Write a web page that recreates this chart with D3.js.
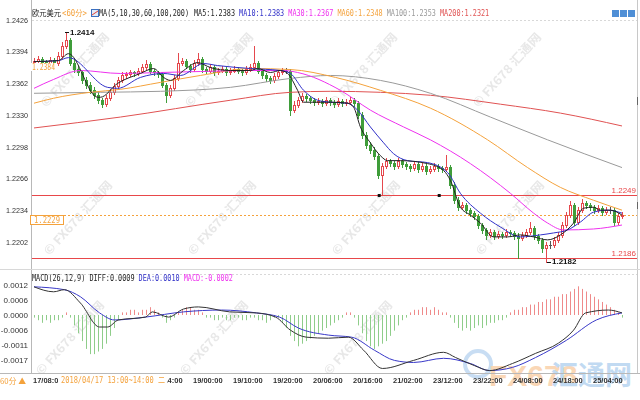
<!DOCTYPE html>
<html><head><meta charset="utf-8">
<script src="https://cdn.jsdelivr.net/npm/d3@7/dist/d3.min.js"></script>
<style>body{margin:0;background:#fff}svg{display:block}</style>
</head><body>
<svg id="c" width="640" height="400"></svg>
<script>
// ---------- DATA ----------
const open = [1.2384,1.2385,1.2387,1.2384,1.2383,1.2386,1.2383,1.2390,1.2400,1.2406,
 1.2383,1.2377,1.2373,1.2365,1.2360,1.2355,1.2350,1.2345,1.2341,1.2347,
 1.2353,1.2359,1.2365,1.2370,1.2371,1.2373,1.2372,1.2375,1.2379,1.2382,
 1.2375,1.2373,1.2371,1.2360,1.2350,1.2357,1.2367,1.2383,1.2385,1.2380,
 1.2377,1.2383,1.2387,1.2377,1.2375,1.2379,1.2373,1.2375,1.2377,1.2373,
 1.2375,1.2377,1.2375,1.2373,1.2377,1.2379,1.2383,1.2375,1.2370,1.2367,
 1.2365,1.2369,1.2373,1.2375,1.2375,1.2335,1.2340,1.2345,1.2349,1.2347,
 1.2345,1.2343,1.2344,1.2342,1.2345,1.2343,1.2341,1.2344,1.2342,1.2343,
 1.2345,1.2342,1.2330,1.2310,1.2300,1.2295,1.2289,1.2269,1.2279,1.2284,
 1.2282,1.2279,1.2284,1.2281,1.2279,1.2277,1.2281,1.2276,1.2279,1.2274,
 1.2276,1.2279,1.2277,1.2276,1.2278,1.2259,1.2244,1.2237,1.2239,1.2234,
 1.2231,1.2228,1.2219,1.2214,1.2209,1.2212,1.2208,1.2210,1.2209,1.2212,
 1.2211,1.2208,1.2206,1.2209,1.2212,1.2216,1.2208,1.2204,1.2196,1.2199,
 1.2199,1.2204,1.2209,1.2219,1.2229,1.2239,1.2222,1.2234,1.2241,1.2239,
 1.2237,1.2234,1.2236,1.2232,1.2234,1.2234,1.2222,1.2228];
const close = [1.2385,1.2387,1.2384,1.2383,1.2386,1.2383,1.2390,1.2400,1.2406,1.2383,
 1.2377,1.2373,1.2365,1.2360,1.2355,1.2350,1.2345,1.2341,1.2347,1.2353,
 1.2359,1.2365,1.2370,1.2371,1.2373,1.2372,1.2375,1.2379,1.2382,1.2375,
 1.2373,1.2371,1.2360,1.2350,1.2357,1.2367,1.2383,1.2385,1.2380,1.2377,
 1.2383,1.2387,1.2377,1.2375,1.2379,1.2373,1.2375,1.2377,1.2373,1.2375,
 1.2377,1.2375,1.2373,1.2377,1.2379,1.2383,1.2375,1.2370,1.2367,1.2365,
 1.2369,1.2373,1.2375,1.2375,1.2335,1.2340,1.2345,1.2349,1.2347,1.2345,
 1.2343,1.2344,1.2342,1.2345,1.2343,1.2341,1.2344,1.2342,1.2343,1.2345,
 1.2342,1.2330,1.2310,1.2300,1.2295,1.2289,1.2269,1.2279,1.2284,1.2282,
 1.2279,1.2284,1.2281,1.2279,1.2277,1.2281,1.2276,1.2279,1.2274,1.2276,
 1.2279,1.2277,1.2276,1.2278,1.2259,1.2244,1.2237,1.2239,1.2234,1.2231,
 1.2228,1.2219,1.2214,1.2209,1.2212,1.2208,1.2210,1.2209,1.2212,1.2211,
 1.2208,1.2206,1.2209,1.2212,1.2216,1.2208,1.2204,1.2196,1.2199,1.2199,
 1.2204,1.2209,1.2219,1.2229,1.2239,1.2222,1.2234,1.2241,1.2239,1.2237,
 1.2234,1.2236,1.2232,1.2234,1.2234,1.2222,1.2228,1.2229];
const high = [1.2388,1.2390,1.2389,1.2386,1.2389,1.2388,1.2394,1.2404,1.2414,1.2408,
 1.2386,1.2380,1.2375,1.2368,1.2363,1.2358,1.2353,1.2347,1.2350,1.2356,
 1.2362,1.2368,1.2373,1.2374,1.2376,1.2375,1.2378,1.2382,1.2386,1.2384,
 1.2377,1.2375,1.2373,1.2362,1.2360,1.2370,1.2393,1.2388,1.2387,1.2382,
 1.2386,1.2393,1.2389,1.2379,1.2382,1.2381,1.2378,1.2380,1.2379,1.2378,
 1.2380,1.2379,1.2377,1.2380,1.2382,1.2400,1.2385,1.2377,1.2372,1.2369,
 1.2372,1.2376,1.2378,1.2378,1.2377,1.2344,1.2348,1.2352,1.2351,1.2349,
 1.2347,1.2347,1.2346,1.2348,1.2347,1.2345,1.2347,1.2346,1.2346,1.2348,
 1.2347,1.2344,1.2333,1.2313,1.2303,1.2298,1.2291,1.2282,1.2287,1.2286,
 1.2284,1.2287,1.2286,1.2283,1.2281,1.2284,1.2283,1.2282,1.2281,1.2279,
 1.2282,1.2281,1.2279,1.2290,1.2280,1.2262,1.2247,1.2242,1.2241,1.2236,
 1.2233,1.2230,1.2221,1.2216,1.2215,1.2214,1.2213,1.2212,1.2215,1.2214,
 1.2213,1.2211,1.2212,1.2215,1.2222,1.2218,1.2210,1.2206,1.2202,1.2203,
 1.2207,1.2212,1.2222,1.2232,1.2243,1.2241,1.2237,1.2245,1.2243,1.2241,
 1.2239,1.2239,1.2238,1.2237,1.2237,1.2236,1.2231,1.2232];
const low = [1.2381,1.2383,1.2381,1.2380,1.2381,1.2380,1.2381,1.2388,1.2398,1.2381,
 1.2374,1.2370,1.2362,1.2357,1.2352,1.2347,1.2342,1.2338,1.2339,1.2345,
 1.2351,1.2357,1.2363,1.2367,1.2369,1.2369,1.2370,1.2373,1.2377,1.2372,
 1.2370,1.2368,1.2358,1.2343,1.2348,1.2355,1.2365,1.2381,1.2378,1.2374,
 1.2375,1.2381,1.2374,1.2372,1.2373,1.2370,1.2371,1.2373,1.2370,1.2371,
 1.2373,1.2372,1.2370,1.2371,1.2375,1.2377,1.2372,1.2367,1.2364,1.2362,
 1.2363,1.2367,1.2371,1.2372,1.2330,1.2333,1.2338,1.2343,1.2344,1.2342,
 1.2340,1.2341,1.2339,1.2340,1.2340,1.2338,1.2339,1.2339,1.2340,1.2341,
 1.2339,1.2327,1.2307,1.2297,1.2292,1.2286,1.2266,1.2249,1.2277,1.2279,
 1.2276,1.2277,1.2278,1.2276,1.2274,1.2275,1.2273,1.2274,1.2271,1.2272,
 1.2274,1.2274,1.2273,1.2274,1.2256,1.2241,1.2234,1.2235,1.2231,1.2228,
 1.2225,1.2216,1.2211,1.2205,1.2207,1.2205,1.2206,1.2206,1.2207,1.2208,
 1.2205,1.2186,1.2204,1.2207,1.2210,1.2205,1.2201,1.2192,1.2182,1.2196,
 1.2197,1.2202,1.2207,1.2217,1.2227,1.2219,1.2220,1.2232,1.2236,1.2234,
 1.2231,1.2232,1.2229,1.2230,1.2231,1.2219,1.2220,1.2226];

// moving averages: [candle index, price]
const ma5 = [[0,1.2384],[6.1,1.2385],[8.6,1.2392],[15.9,1.2348],[16.6,1.2348],[20.9,1.2362],[26.6,1.2372],[29.9,1.2377],[32.4,1.2368],[34.1,1.2365],[37.4,1.2375],[40.9,1.2383],[44.1,1.2378],[49.1,1.2375],[54.1,1.2375],[55.9,1.2377],[59.1,1.2373],[61.6,1.2375],[63.4,1.2372],[65.9,1.2355],[67.4,1.2343],[69.1,1.2343],[74.1,1.2343],[78.4,1.2342],[79.9,1.2338],[81.6,1.2318],[84.1,1.2302],[86.6,1.2289],[88.4,1.2284],[91.6,1.2284],[98.4,1.2281],[102.4,1.2274],[104.1,1.2264],[106.6,1.2237],[109.1,1.2229],[111.6,1.2221],[114.9,1.2207],[118.4,1.2207],[121.6,1.2209],[124.9,1.2207],[128.4,1.2204],[131.6,1.2209],[134.9,1.2221],[137.4,1.2236],[139.9,1.2237],[141.6,1.2234],[144.1,1.2234],[147,1.2229]];
const ma10 = [[0,1.2384],[6.1,1.2385],[8.6,1.2388],[18.4,1.2358],[20.9,1.2357],[26.6,1.2368],[32.4,1.2372],[36.6,1.2370],[42.4,1.2382],[45.9,1.2380],[54.1,1.2377],[61.6,1.2375],[64.1,1.2372],[67.4,1.2355],[70.9,1.2345],[74.1,1.2343],[78.4,1.2342],[80.9,1.2335],[84.1,1.2318],[87.4,1.2302],[89.9,1.2291],[93.4,1.2284],[98.4,1.2282],[103.4,1.2272],[106.6,1.2251],[111.6,1.2231],[116.6,1.2217],[121.6,1.2207],[126.6,1.2209],[129.9,1.2211],[133.4,1.2214],[136.6,1.2222],[139.9,1.2232],[143.4,1.2234],[147,1.2231]];
const ma30 = [[0,1.2357],[4.9,1.2366],[11.6,1.2375],[21.6,1.2372],[31.6,1.2373],[41.6,1.2374],[54.1,1.2375],[62.4,1.2375],[65.9,1.2373],[76.6,1.2355],[84.1,1.2335],[92.4,1.2318],[99.1,1.2305],[109.1,1.2281],[119.1,1.2251],[124.9,1.2231],[128.4,1.2221],[132.4,1.2214],[139.9,1.2215],[147,1.2219]];
const ma60 = [[0,1.2342],[4.9,1.2347],[14.1,1.2353],[21.6,1.2356],[31.6,1.2363],[41.6,1.2370],[54.1,1.2377],[64.1,1.2376],[75.4,1.2368],[86.6,1.2355],[99.1,1.2337],[113.4,1.2305],[123.4,1.2277],[131.6,1.2257],[139.9,1.2244],[147,1.2234]];
const ma100 = [[0,1.2352],[16.6,1.2353],[31.6,1.2354],[49.1,1.2358],[64.1,1.2367],[74.1,1.2370],[86.6,1.2365],[99.1,1.2352],[114.1,1.2328],[128.4,1.2305],[147,1.2277]];
const ma200 = [[0,1.2317],[21.6,1.2328],[49.1,1.2345],[64.1,1.2353],[74.1,1.2354],[86.6,1.2353],[99.1,1.2350],[116.6,1.2341],[131.6,1.2332],[147,1.2319]];

// MACD lines: [candle index, value]
const diff = [[0,0.00108],[4.9,0.00089],[7.6,0.00097],[11.6,0.00046],[16.4,-0.00046],[18.4,-0.00046],[21.1,-0.00019],[27.9,-0.00008],[29.6,0.00012],[33.6,-0.00008],[37.4,0.00023],[41.1,0.00031],[48.9,0.00012],[55.6,0.00008],[60.4,-0.00008],[64.1,-0.00058],[68.1,-0.00085],[73.6,-0.00089],[78.6,-0.00085],[82.4,-0.00135],[87.1,-0.00205],[94.9,-0.00174],[102.4,-0.00143],[105.4,-0.00163],[110.1,-0.00194],[113.9,-0.00213],[119.6,-0.00186],[125.4,-0.00147],[131.1,-0.00108],[134.9,-0.00058],[137.9,0.00008],[143.6,0.00019],[147,0.00008]];
const dea = [[0,0.00108],[7.6,0.00097],[11.6,0.00070],[16.4,0.00008],[20.1,-0.00019],[27.9,-0.00008],[37.4,0.00012],[46.9,0.00019],[55.6,0.00008],[61.4,-0.00008],[66.1,-0.00050],[73.6,-0.00077],[79.4,-0.00085],[85.1,-0.00135],[90.1,-0.00174],[94.9,-0.00182],[102.4,-0.00166],[109.1,-0.00186],[113.9,-0.00213],[119.6,-0.00201],[125.4,-0.00163],[133.1,-0.00097],[140.6,-0.00019],[147,0.00008]];
// MACD histogram per candle, in units of 0.0001
const macdHist = [-1,-2,-3,-2,-3,-2,-2,-1,1,-1,
 -4,-7,-10,-13,-15,-15,-14,-13,-11,-8,
 -5,-2,1,1,2,2,1,2,2,3,
 2,1,-1,-3,-2,-1,1,2,3,3,
 2,2,1,-1,-1,-2,-2,-1,-2,-2,
 -1,-1,-2,-2,-1,-1,-2,-2,-3,-2,
 -1,-1,-3,-5,-8,-10,-12,-11,-10,-9,
 -8,-7,-6,-5,-4,-3,-2,-1,1,1,
 -1,-4,-7,-10,-12,-13,-12,-11,-10,-8,
 -6,-4,-2,-1,1,2,2,3,3,2,
 3,2,1,1,-1,-3,-5,-6,-5,-6,
 -5,-4,-5,-4,-3,-3,-2,-2,-1,1,
 2,2,3,3,4,4,5,5,6,6,
 7,7,8,8,9,10,11,10,9,8,
 7,6,5,4,3,2,1,-1];
const HIST_UNIT = 0.0001;

// time axis ticks that are visible (the others sit under the cursor tooltip)
const timeTickIdx = [0,30,40,50,60,70,80,90,100,110,120,130,140];
const timeTickLabels = ["17/08:00","18/14:00","19/00:00","19/10:00","19/20:00","20/06:00","20/16:00","21/02:00","23/12:00","23/22:00","24/08:00","24/18:00","25/04:00"];
const tooltipText = "2018/04/17 13:00~14:00 二";
const priceTicks = [1.2426,1.2394,1.2362,1.2330,1.2298,1.2266,1.2234,1.2202];
const macdTickVals = [0.00115,0.000575,0,-0.000575,-0.00115,-0.001725];
const macdTickLabels = ["0.0012","0.0006","0.0000","-0.0006","-0.0011","-0.0017"];
const maNames = ["MA5","MA10","MA30","MA60","MA100","MA200"];
const maLegendVals = [1.2383,1.2383,1.2367,1.2348,1.2353,1.2321];
const macdLegend = {diff:0.0009, dea:0.0010, macd:-0.0002};
const redLines = [1.2249, 1.2186];
const lastPrice = 1.2229;
const cursorPrice = 1.2384;
const drawEnds = [86.3, 101.3];
const highMark = {i:7.6, v:1.2414};
const lowMark = {i:128, v:1.2182};

// ---------- DRAW ----------
const svg = d3.select('#c');
const x = d3.scaleLinear().domain([0,147]).range([34,622]);
const y = d3.scaleLinear().domain([1.2186,1.2426]).range([257.7,20]);
const my = d3.scaleLinear().domain([0,0.00115]).range([315,285]);
const RED='#e5484d', GREEN='#3f9d3a';
const maColors=['#222222','#3030c8','#ee30ee','#f4a23c','#9a9a9a','#e05252'];
const mono='"DejaVu Sans Mono","Noto Sans CJK SC",monospace';
const sans='"Liberation Sans",Arial,sans-serif';
const cjk='"Noto Sans CJK SC",sans-serif';

const defs=svg.append('defs');
defs.append('clipPath').attr('id','cm').append('rect').attr('x',32).attr('y',20).attr('width',605).attr('height',248);
defs.append('clipPath').attr('id','cd').append('rect').attr('x',32).attr('y',283).attr('width',605).attr('height',90);
defs.append('clipPath').attr('id','ct0').append('rect').attr('x',30).attr('y',370).attr('width',28).attr('height',20);
defs.append('clipPath').attr('id','ct1').append('rect').attr('x',167).attr('y',370).attr('width',30).attr('height',20);

// watermarks
const wm=svg.append('g').attr('opacity',0.5);
[[70,[75,219,363,507]],[218,[78,222,366,510]],[338,[70,214,358]]].forEach(([wy,xs])=>xs.forEach(wx=>{
  wm.append('text').attr('transform',`translate(${wx},${wy}) rotate(-48)`).attr('text-anchor','middle')
   .attr('dy','0.35em').attr('font-family',cjk).attr('font-weight','bold')
   .attr('font-size',12).attr('fill','#d0d0d0').attr('textLength',95).attr('lengthAdjust','spacingAndGlyphs').text('© FX678 汇通网');
}));
// big logo
const lg=svg.append('g').attr('opacity',0.55);
lg.append('circle').attr('cx',478).attr('cy',364).attr('r',13).attr('fill','none').attr('stroke','#9cc3ea').attr('stroke-width',4);
lg.append('text').attr('x',489).attr('y',386).attr('font-family',sans).attr('font-weight','bold').attr('font-size',30).attr('fill','#f6b77c').text('FX678');
lg.append('text').attr('x',551).attr('y',385).attr('font-family',cjk).attr('font-weight','bold').attr('font-size',27).attr('fill','#8fbce8').text('汇通网');

// frame
svg.append('line').attr('x1',31.5).attr('x2',31.5).attr('y1',0).attr('y2',373).attr('stroke','#b8b8b8');
svg.append('line').attr('x1',637.5).attr('x2',637.5).attr('y1',0).attr('y2',373).attr('stroke','#c8c8c8');
svg.append('line').attr('x1',0).attr('x2',640).attr('y1',269.5).attr('y2',269.5).attr('stroke','#d8d8d8');
svg.append('line').attr('x1',0).attr('x2',640).attr('y1',373.5).attr('y2',373.5).attr('stroke','#b8b8b8');
svg.append('line').attr('x1',32).attr('x2',637).attr('y1',20.5).attr('y2',20.5).attr('stroke','#d8d8d8').attr('stroke-dasharray','2,2');
svg.append('line').attr('x1',32).attr('x2',637).attr('y1',274.5).attr('y2',274.5).attr('stroke','#d8d8d8').attr('stroke-dasharray','2,2');
// right edge scroll marks
[[97,105],[202,209]].forEach(([a,b])=>svg.append('line').attr('x1',637.5).attr('x2',637.5).attr('y1',a).attr('y2',b).attr('stroke','#666'));

// price axis labels
svg.append('g').selectAll('text').data(priceTicks).join('text')
  .attr('x',28).attr('y',d=>y(d)).attr('dy','0.35em').attr('text-anchor','end')
  .attr('font-family',sans).attr('font-size',8).attr('fill','#333')
  .attr('textLength',22).attr('lengthAdjust','spacingAndGlyphs').text(d=>d.toFixed(4));
// macd axis labels
svg.append('g').selectAll('text').data(macdTickVals).join('text')
  .attr('x',28).attr('y',d=>my(d)).attr('dy','0.35em').attr('text-anchor','end')
  .attr('font-family',sans).attr('font-size',8).attr('fill','#333')
  .text((d,i)=>macdTickLabels[i]);

// red horizontal lines
redLines.forEach(v=>{
  svg.append('line').attr('x1',32).attr('x2',637).attr('y1',Math.round(y(v))+0.5).attr('y2',Math.round(y(v))+0.5).attr('stroke','#e8474a');
  svg.append('text').attr('x',636).attr('y',Math.round(y(v))-2).attr('text-anchor','end').attr('font-family',sans)
    .attr('font-size',8).attr('fill','#e8474a').text(v.toFixed(4));
});
// last price dotted
svg.append('line').attr('x1',32).attr('x2',637).attr('y1',Math.round(y(lastPrice))+0.5).attr('y2',Math.round(y(lastPrice))+0.5)
  .attr('stroke','#f4a23c').attr('stroke-dasharray','2,2');

// candles
const cg=svg.append('g').attr('clip-path','url(#cm)');
d3.range(close.length).forEach(i=>{
  const cx=Math.round(x(i));
  const o=open[i], c=close[i];
  const up=c>o, dn=c<o;
  const col= up?RED:(dn?GREEN:'#555');
  const yt=Math.round(y(Math.max(o,c))), yb=Math.round(y(Math.min(o,c)));
  cg.append('line').attr('x1',cx+0.5).attr('x2',cx+0.5).attr('y1',Math.round(y(high[i]))).attr('y2',Math.round(y(low[i]))+1).attr('stroke',col);
  if(up){
    cg.append('rect').attr('x',cx-0.5).attr('y',yt+0.5).attr('width',2).attr('height',Math.max(1,yb-yt)).attr('fill','#fff').attr('stroke',col);
  } else if(dn){
    cg.append('rect').attr('x',cx-1).attr('y',yt).attr('width',3).attr('height',Math.max(1,yb-yt+1)).attr('fill',col);
  } else {
    cg.append('rect').attr('x',cx-1).attr('y',yt).attr('width',3).attr('height',1).attr('fill',col);
  }
});

// MA lines
const lineP=d3.line().x(d=>x(d[0])).y(d=>y(d[1])).curve(d3.curveMonotoneX);
const mg=svg.append('g').attr('clip-path','url(#cm)').attr('fill','none');
[ma200,ma100,ma60,ma30,ma10,ma5].forEach((s,k)=>{
  mg.append('path').attr('d',lineP(s)).attr('stroke',maColors[5-k]).attr('stroke-width',1);
});

// drawing tool end handles
svg.append('g').selectAll('rect').data(drawEnds).join('rect')
  .attr('x',d=>x(d)-1.5).attr('y',Math.round(y(redLines[0]))-1).attr('width',3).attr('height',3).attr('fill','#111');

// high/low marks
[highMark,lowMark].forEach(m=>{
  const xx=Math.round(x(m.i))+1, yy=y(m.v);
  svg.append('line').attr('x1',xx).attr('x2',xx+4).attr('y1',Math.round(yy)+0.5).attr('y2',Math.round(yy)+0.5).attr('stroke','#111');
  svg.append('text').attr('x',xx+5).attr('y',yy).attr('dy','0.35em').attr('font-family',sans).attr('font-weight','bold')
    .attr('font-size',8).attr('fill','#111').text(m.v.toFixed(4));
});

// left price label boxes
{
  const yy=Math.round(y(lastPrice));
  svg.append('rect').attr('x',30.5).attr('y',yy+0.5).attr('width',33).attr('height',9).attr('fill','#fff').attr('stroke','#f4a23c');
  svg.append('text').attr('x',34).attr('y',yy+8).attr('font-family',mono).attr('font-size',8).attr('fill','#f4a23c')
   .attr('textLength',26).attr('lengthAdjust','spacingAndGlyphs').text(lastPrice.toFixed(4));
}
{
  const yy=Math.round(y(cursorPrice));
  svg.append('rect').attr('x',31).attr('y',yy+1).attr('width',25).attr('height',8).attr('fill','#fff');
  svg.append('text').attr('x',32).attr('y',yy+8).attr('font-family',mono).attr('font-size',8).attr('fill','#f4a23c')
   .attr('textLength',23).attr('lengthAdjust','spacingAndGlyphs').text(cursorPrice.toFixed(4));
}

// MACD histogram
const hg=svg.append('g').attr('clip-path','url(#cd)');
macdHist.forEach((v,i)=>{
  const cx=Math.round(x(i))+0.5;
  hg.append('line').attr('x1',cx).attr('x2',cx).attr('y1',my(0)).attr('y2',my(v*HIST_UNIT))
    .attr('stroke',v>0?'#ef8a8a':'#8fcd8a');
});
const lineM=d3.line().x(d=>x(d[0])).y(d=>my(d[1])).curve(d3.curveMonotoneX);
hg.append('path').attr('d',lineM(dea)).attr('fill','none').attr('stroke','#3838c8');
hg.append('path').attr('d',lineM(diff)).attr('fill','none').attr('stroke','#333');

// legends
function seg(g,t,col,x0,w,yb,font){
  return g.append('text').attr('x',x0).attr('y',yb).attr('fill',col).attr('font-family',font||mono).attr('font-size',8)
   .attr('textLength',w).attr('lengthAdjust','spacingAndGlyphs').text(t);
}
const lgd=svg.append('g');
seg(lgd,'欧元美元','#222',32,29,16,cjk);
seg(lgd,'<60分>','#f4a23c',62,25,16);
lgd.append('rect').attr('x',91.5).attr('y',9.5).attr('width',7).attr('height',7).attr('fill','#dfe9f7').attr('stroke','#3a6fc0');
lgd.append('line').attr('x1',92).attr('y1',15).attr('x2',98).attr('y2',11).attr('stroke','#e0403a');
seg(lgd,'MA(5,10,30,60,100,200)','#222',99,90,16);
let lx=194;
maNames.forEach((n,k)=>{
  const t=n+':'+maLegendVals[k].toFixed(4);
  seg(lgd,t,maColors[k],lx,t.length*4.1,16);
  lx+= (t.length+1)*4.1;
});
{
  let t1='MACD(26,12,9) DIFF:'+macdLegend.diff.toFixed(4);
  seg(lgd,t1,'#222',32,t1.length*4.1,281);
  let x1=32+(t1.length+1)*4.1;
  let t2='DEA:'+macdLegend.dea.toFixed(4);
  seg(lgd,t2,'#3030c8',x1,t2.length*4.1,281);
  x1+= (t2.length+1)*4.1;
  let t3='MACD:'+macdLegend.macd.toFixed(4);
  seg(lgd,t3,'#ee30ee',x1,t3.length*4.1,281);
}
// top right buttons
[612,620,628].forEach(bx=>{
  svg.append('rect').attr('x',bx).attr('y',10).attr('width',7).attr('height',7).attr('fill','#4f8fd6');
});

// time axis
svg.append('g').selectAll('text').data(timeTickIdx).join('text')
  .attr('x',d=>Math.round(x(d))-1).attr('y',383).attr('font-family',sans).attr('font-weight','bold')
  .attr('font-size',7.5).attr('fill','#333')
  .attr('clip-path',(d,i)=>i===0?'url(#ct0)':(i===1?'url(#ct1)':null))
  .text((d,i)=>timeTickLabels[i]);
// cursor tooltip over time axis
svg.append('rect').attr('x',58).attr('y',375).attr('width',109).attr('height',11).attr('fill','#fff');
seg(svg,tooltipText,'#f4a23c',61,104,383);
seg(svg,'60分 ▲','#f4a23c',0,26,384,cjk);
</script>
</body></html>
